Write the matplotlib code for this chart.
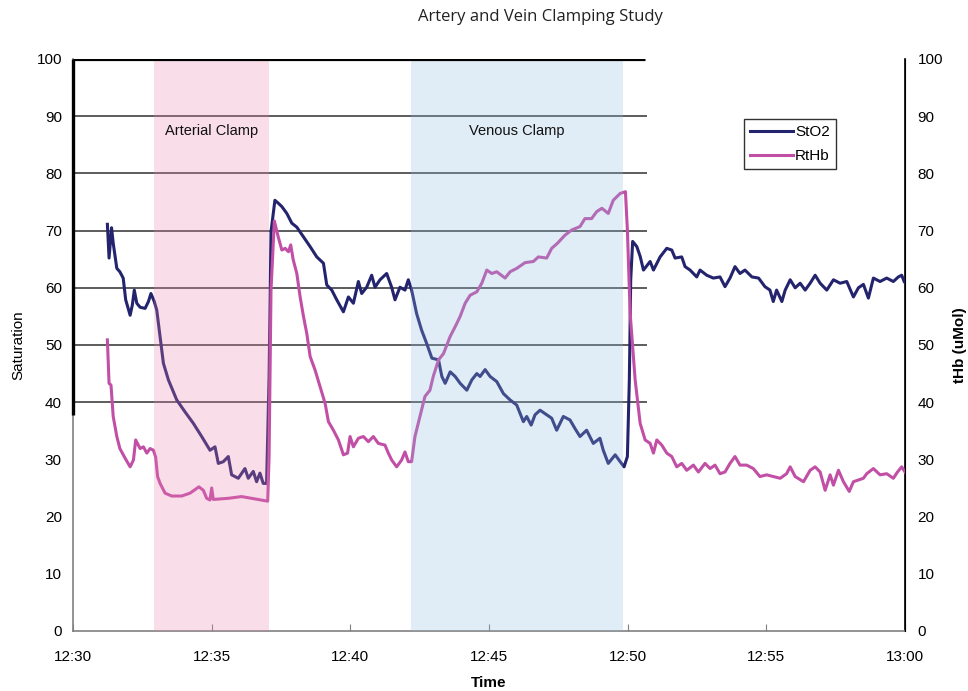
import matplotlib
matplotlib.use("Agg")
import matplotlib.pyplot as plt

# time in minutes after 12:30
sto2_t = [1.24, 1.30, 1.39, 1.45, 1.58, 1.69, 1.81, 1.90, 2.06, 2.14, 2.21, 2.30, 2.42, 2.60, 2.72, 2.81,
          2.93, 3.02, 3.14, 3.26, 3.44, 3.74, 4.04, 4.34, 4.64, 4.94, 5.12, 5.24, 5.42, 5.60, 5.72, 5.96,
          6.20, 6.32, 6.50, 6.62, 6.74, 6.86, 6.98, 7.07, 7.14, 7.28, 7.40, 7.53, 7.71, 7.89, 8.07, 8.31,
          8.55, 8.79, 9.03, 9.15, 9.33, 9.51, 9.75, 9.93, 10.11, 10.29, 10.41, 10.59, 10.77, 10.89, 11.07,
          11.31, 11.49, 11.61, 11.79, 11.97, 12.09, 12.21, 12.39, 12.57, 12.75, 12.94, 13.18, 13.30, 13.42,
          13.60, 13.78, 13.96, 14.20, 14.38, 14.56, 14.68, 14.86, 15.04, 15.28, 15.52, 15.76, 16.00, 16.24,
          16.36, 16.52, 16.66, 16.84, 17.08, 17.26, 17.44, 17.68, 17.92, 18.10, 18.28, 18.52, 18.76, 19.00,
          19.12, 19.30, 19.55, 19.73, 19.87, 19.99, 20.06, 20.11, 20.18, 20.33, 20.45, 20.57, 20.81, 20.93,
          21.17, 21.41, 21.59, 21.71, 21.95, 22.07, 22.25, 22.49, 22.61, 22.85, 23.09, 23.33, 23.51, 23.69,
          23.87, 24.05, 24.23, 24.48, 24.72, 24.95, 25.13, 25.25, 25.37, 25.56, 25.68, 25.86, 26.04, 26.22,
          26.40, 26.58, 26.76, 26.94, 27.18, 27.42, 27.66, 27.90, 28.14, 28.32, 28.50, 28.68, 28.86, 29.10,
          29.34, 29.58, 29.76, 29.88, 29.97]
sto2_v = [71.1, 65.2, 70.5, 67.8, 63.4, 62.8, 61.7, 57.9, 55.2, 57.0, 59.6, 57.3, 56.6, 56.4, 57.6, 59.0,
          57.6, 56.1, 51.5, 46.8, 43.9, 40.4, 38.3, 36.3, 34.0, 31.6, 32.2, 29.3, 29.6, 30.5, 27.3, 26.7,
          28.4, 26.7, 27.9, 26.1, 27.6, 25.8, 25.8, 44.5, 69.8, 75.3, 74.8, 74.2, 73.0, 71.3, 70.6, 68.9,
          67.2, 65.4, 64.3, 60.5, 59.6, 57.9, 55.8, 58.4, 57.3, 61.1, 59.0, 60.1, 62.2, 60.1, 61.4,
          62.5, 60.1, 57.9, 60.1, 59.6, 61.4, 59.6, 55.5, 52.6, 50.3, 47.7, 47.4, 44.5, 43.3,
          45.3, 44.5, 43.3, 42.1, 43.9, 45.0, 44.5, 45.7, 44.5, 43.6, 41.5, 40.4, 39.5, 36.6,
          37.5, 36.0, 37.8, 38.6, 37.8, 37.2, 35.1, 37.5, 36.9, 35.4, 34.0, 35.1, 32.8, 33.7,
          31.6, 29.3, 30.8, 29.6, 28.7, 30.5, 43.9, 61.4, 68.1, 67.2, 65.5, 63.1, 64.6, 63.1,
          65.4, 66.9, 66.6, 65.2, 65.4, 63.7, 63.1, 61.9, 63.1, 62.2, 61.7, 61.9, 60.2, 61.7,
          63.7, 62.5, 63.1, 61.9, 61.7, 60.2, 59.6, 57.6, 59.6, 57.6, 59.6, 61.4, 60.0, 60.8,
          59.6, 60.8, 62.2, 60.8, 59.6, 61.4, 60.8, 61.1, 58.4, 60.0, 60.6, 58.2, 61.7, 61.1,
          61.7, 61.1, 61.9, 62.2, 61.1]

rthb_t = [1.24, 1.30, 1.37, 1.45, 1.58, 1.69, 1.88, 2.06, 2.18, 2.26, 2.42, 2.54, 2.66, 2.78, 2.90, 2.98,
          3.05, 3.14, 3.32, 3.56, 3.92, 4.22, 4.54, 4.70, 4.82, 4.94, 5.00, 5.06, 5.60, 6.08, 6.44, 6.80,
          7.02, 7.07, 7.14, 7.26, 7.40, 7.53, 7.65, 7.77, 7.85, 7.94, 8.07, 8.19, 8.31, 8.43, 8.55, 8.73,
          8.91, 9.09, 9.21, 9.39, 9.57, 9.75, 9.90, 9.99, 10.11, 10.29, 10.47, 10.65, 10.83, 11.01, 11.25,
          11.37, 11.49, 11.67, 11.85, 11.97, 12.09, 12.21, 12.33, 12.51, 12.69, 12.87, 12.99, 13.18, 13.36,
          13.60, 13.78, 13.96, 14.14, 14.32, 14.56, 14.74, 14.92, 15.10, 15.28, 15.58, 15.76, 16.00, 16.30,
          16.60, 16.78, 17.08, 17.26, 17.47, 17.74, 17.98, 18.28, 18.46, 18.70, 18.88, 19.07, 19.30, 19.48,
          19.73, 19.92, 19.99, 20.09, 20.27, 20.45, 20.63, 20.81, 20.93, 21.05, 21.23, 21.41, 21.59, 21.77,
          21.95, 22.13, 22.37, 22.55, 22.79, 22.97, 23.15, 23.33, 23.51, 23.69, 23.87, 24.05, 24.29, 24.53,
          24.77, 25.01, 25.25, 25.50, 25.73, 25.86, 26.04, 26.34, 26.58, 26.76, 26.94, 27.12, 27.30, 27.42,
          27.60, 27.78, 27.99, 28.14, 28.50, 28.62, 28.86, 29.10, 29.34, 29.58, 29.73, 29.88, 30.00]
rthb_v = [50.9, 43.3, 43.0, 37.5, 34.0, 31.9, 30.2, 28.7, 29.9, 33.4, 31.9, 32.2, 31.1, 31.9, 31.6, 30.4,
          27.0, 25.8, 24.1, 23.6, 23.6, 24.1, 25.2, 24.6, 23.2, 22.9, 25.0, 23.0, 23.2, 23.5, 23.2, 22.9,
          22.7, 30.5, 59.6, 71.7, 68.9, 66.6, 66.9, 66.3, 67.5, 64.9, 62.5, 58.4, 55.0, 52.0, 48.0, 45.6,
          42.7, 39.8, 36.6, 35.1, 33.4, 30.8, 31.1, 34.0, 32.2, 33.7, 34.0, 33.1, 34.0, 32.8, 32.5,
          31.1, 29.9, 28.7, 29.9, 31.3, 29.6, 29.6, 34.0, 37.5, 41.0, 42.1, 44.5, 47.4, 48.5,
          51.5, 53.2, 55.0, 57.3, 58.7, 59.3, 60.8, 63.1, 62.5, 62.8, 61.7, 62.8, 63.4, 64.4,
          64.6, 65.4, 65.2, 66.9, 67.8, 69.2, 70.1, 70.7, 72.1, 72.1, 73.3, 73.9, 73.0, 75.3,
          76.5, 76.8, 70.1, 55.5, 43.9, 36.3, 33.4, 32.8, 31.1, 33.4, 32.5, 31.1, 30.5, 28.7,
          29.3, 28.1, 29.0, 27.8, 29.3, 28.4, 29.0, 27.5, 27.8, 29.3, 30.5, 29.0, 29.0, 28.4,
          27.0, 27.3, 27.0, 26.7, 27.5, 28.7, 27.0, 26.1, 28.1, 28.7, 27.8, 24.6, 27.3, 25.5,
          28.1, 26.1, 24.4, 26.1, 26.7, 27.5, 28.4, 27.3, 27.5, 26.7, 27.8, 28.7, 27.8]

x_ticks = [0, 5, 10, 15, 20, 25, 30]
x_labels = ["12:30", "12:35", "12:40", "12:45", "12:50", "12:55", "13:00"]
y_ticks = [0, 10, 20, 30, 40, 50, 60, 70, 80, 90, 100]
grid_vals = [40, 50, 60, 70, 80, 90]
arterial = (2.92, 7.07)
venous = (12.19, 19.83)

fig = plt.figure(figsize=(9.68, 6.91), dpi=100)
ax = fig.add_axes([73/968, 60/691, (905-73)/968, (631-59)/691])
ax.set_xlim(0, 30)
ax.set_ylim(0, 100)

navy = "#24246e"
pink = "#c24fa6"
ax.plot(sto2_t, sto2_v, color=navy, lw=2.2, zorder=3, label="StO2")
ax.plot(rthb_t, rthb_v, color=pink, lw=2.2, zorder=3, label="RtHb")

ax.axvspan(*arterial, color="#ec82ae", alpha=0.27, lw=0, zorder=4)
ax.axvspan(*venous, color="#8db9de", alpha=0.27, lw=0, zorder=4)

ax.hlines(grid_vals, 0, 20.70, color="#303030", lw=1.1, zorder=2)
ax.hlines([100], 0, 20.63, color="black", lw=2.3, zorder=5)
ax.vlines([0], 37.8, 100, color="black", lw=2.4, zorder=5, clip_on=False)

font = "Liberation Sans"
ax.text((arterial[0] + arterial[1]) / 2, 87.5, "Arterial Clamp", ha="center", va="center",
        fontsize=10.5, family=font, color="#111111", zorder=6)
ax.text((venous[0] + venous[1]) / 2, 87.5, "Venous Clamp", ha="center", va="center",
        fontsize=10.5, family=font, color="#111111", zorder=6)

for s in ["left", "bottom"]:
    ax.spines[s].set_color("#808080")
    ax.spines[s].set_linewidth(1.2)
ax.spines["top"].set_visible(False)
ax.spines["right"].set_color("black")
ax.spines["right"].set_linewidth(1.2)

ax.set_xticks(x_ticks)
ax.set_xticklabels(x_labels, family=font, fontsize=11)
ax.tick_params(axis="x", direction="in", length=5, color="#808080", pad=14)
ax.set_yticks(y_ticks)
ax.set_yticklabels([str(v) for v in y_ticks], family=font, fontsize=11)
ax.tick_params(axis="y", length=0, pad=8)

ax2 = ax.twinx()
ax2.set_ylim(0, 100)
ax2.set_yticks(y_ticks)
ax2.set_yticklabels([str(v) for v in y_ticks], family=font, fontsize=11)
ax2.tick_params(axis="y", length=0, pad=9)
for s in ["left", "top", "bottom"]:
    ax2.spines[s].set_visible(False)
ax2.spines["right"].set_color("black")

ax.set_xlabel("Time", family=font, fontsize=11, fontweight="bold")
ax.xaxis.set_label_coords(0.5, -0.078)
ax.set_ylabel("Saturation", family=font, fontsize=11, va="center")
ax.yaxis.set_label_coords(-0.066, 0.5)
ax2.set_ylabel("tHb (uMol)", family=font, fontsize=11, fontweight="bold", va="center")
ax2.yaxis.set_label_coords(1.066, 0.5)

leg = ax.legend(loc="upper left", bbox_to_anchor=((744-73)/832, (631-119)/572), frameon=True,
                fancybox=False, edgecolor="black", prop={"family": font, "size": 11},
                handlelength=2.8, handletextpad=0.15, borderpad=0.4, labelspacing=0.65,
                borderaxespad=0)
leg.get_frame().set_linewidth(1.0)
leg.set_zorder(7)

fig.text(540/968, 1 - 17/691, "Artery and Vein Clamping Study", ha="center", va="center",
         fontsize=12, family="Open Sans", color="#222222")

fig.savefig("out.png", dpi=100)
